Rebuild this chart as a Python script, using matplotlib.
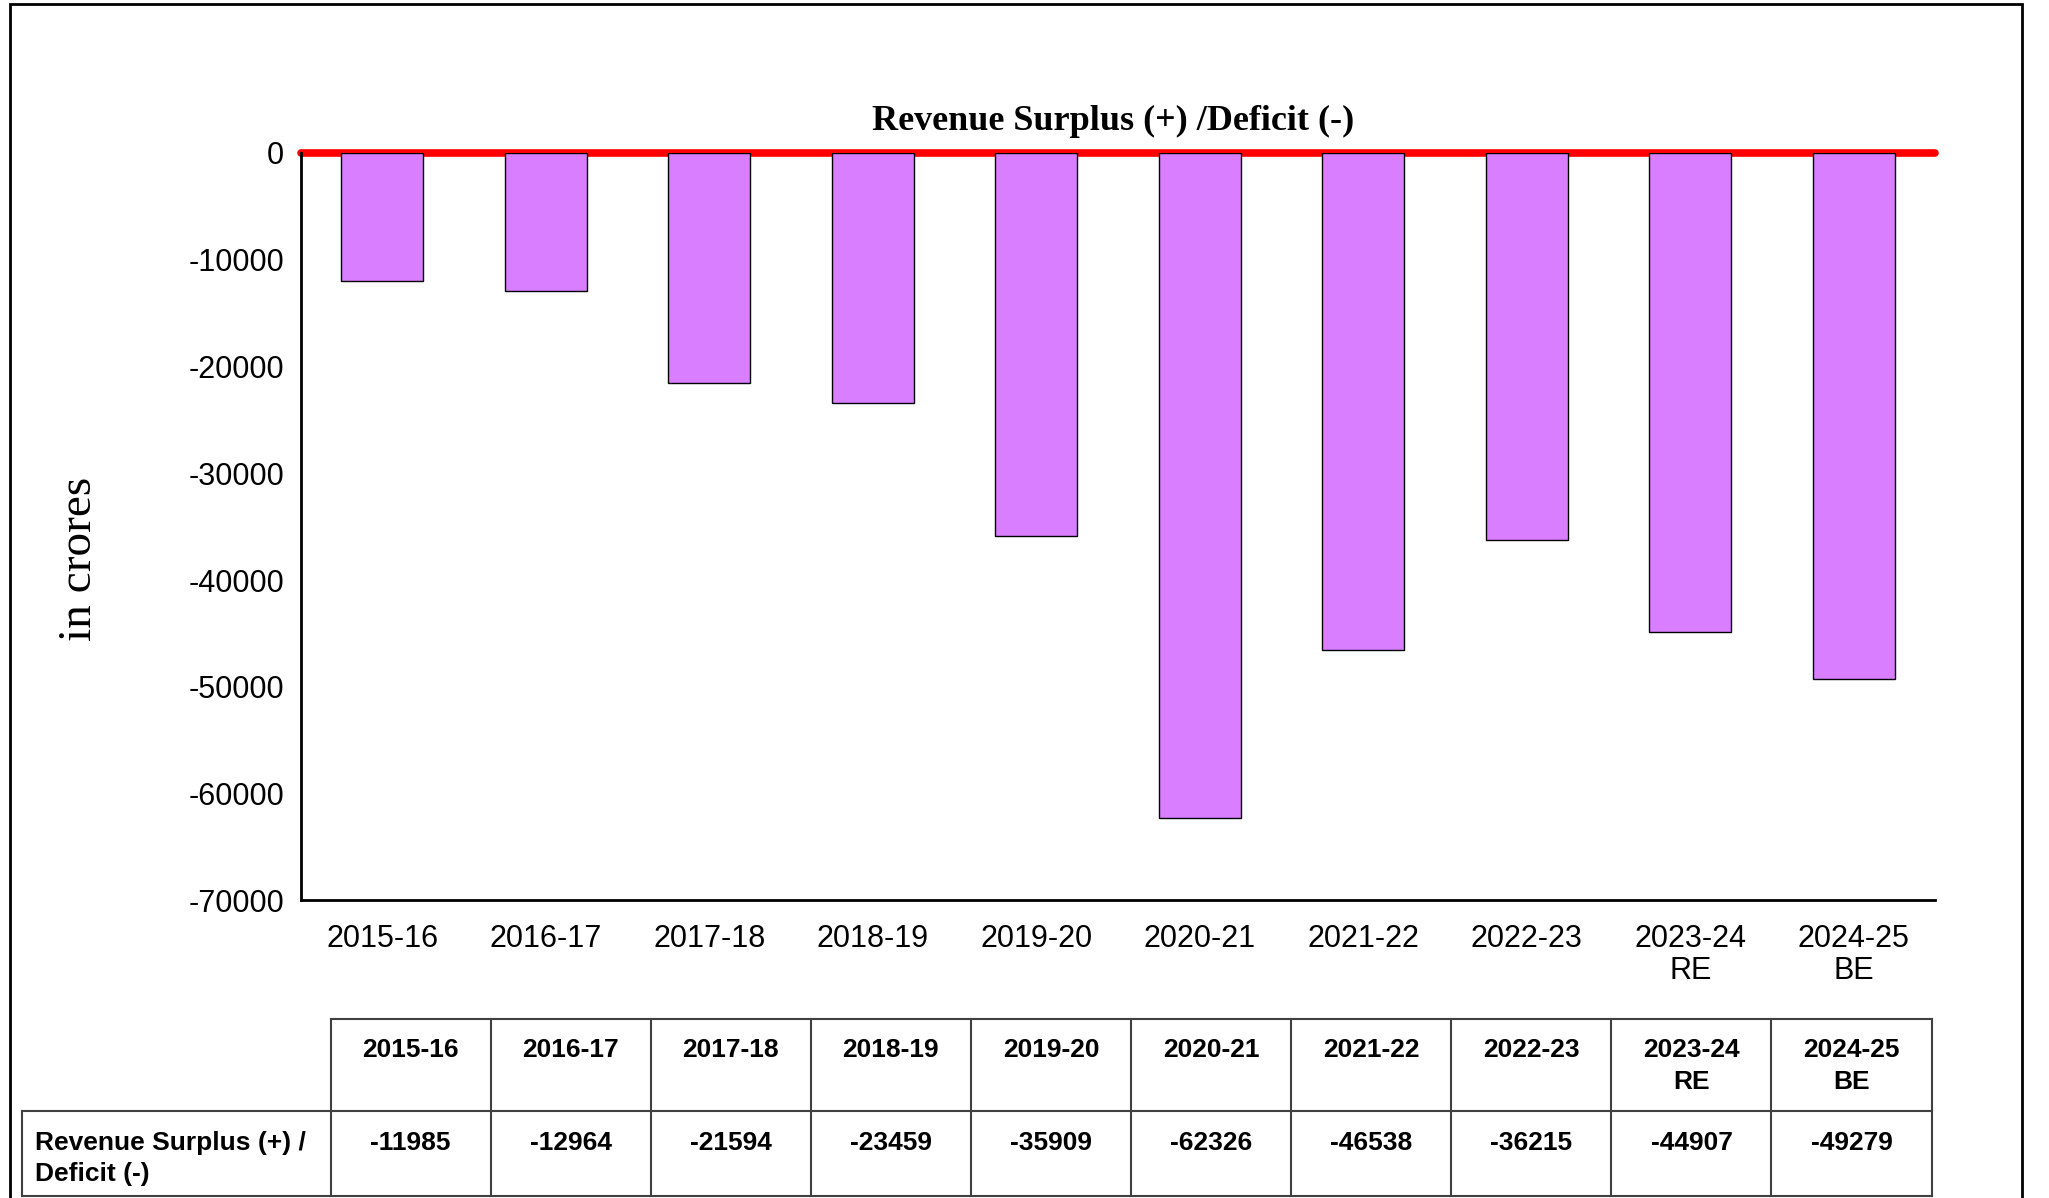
import matplotlib.pyplot as plt
from matplotlib.patches import Rectangle

plt.rcParams['font.family'] = ['Liberation Sans', 'DejaVu Sans']

years = ["2015-16", "2016-17", "2017-18", "2018-19", "2019-20", "2020-21",
         "2021-22", "2022-23", "2023-24\nRE", "2024-25\nBE"]
deficit = [-11985, -12964, -21594, -23459, -35909, -62326,
           -46538, -36215, -44907, -49279]
yticks = [0, -10000, -20000, -30000, -40000, -50000, -60000, -70000]
title = "Revenue Surplus (+) /Deficit (-)"
ylabel = "in crores"
row_label = "Revenue Surplus (+) /\nDeficit (-)"

fig = plt.figure(figsize=(20.49, 11.98), dpi=100)

# outer frame (bottom edge runs off the picture)
fig.patches.append(Rectangle((0.0051, -0.05), 0.9815, 1.0467, transform=fig.transFigure,
                             fill=False, edgecolor='black', linewidth=2))

ax = fig.add_axes([0.1467, 0.2484, 0.7979, 0.6240])
x = list(range(len(years)))
ax.bar(x, deficit, width=0.5, color='#d97eff', edgecolor='black', linewidth=1, zorder=3)
ax.axhline(0, color='#ff0000', linewidth=5.5, solid_capstyle='round', clip_on=False, zorder=2)

ax.set_xlim(-0.5, len(years) - 0.5)
ax.set_ylim(-70000, 0)
ax.set_xticks(x)
ax.set_xticklabels(years, fontsize=22, linespacing=1.1)
ax.set_yticks(yticks)
ax.set_yticklabels([str(v) for v in yticks], fontsize=22)
ax.tick_params(axis='x', length=0, pad=17)
ax.tick_params(axis='y', length=0, pad=12)
for s in ['top', 'right']:
    ax.spines[s].set_visible(False)
for s in ['left', 'bottom']:
    ax.spines[s].set_linewidth(2)
    ax.spines[s].set_color('black')

fig.text(0.5434, 0.899, title, ha='center', va='center', fontsize=26,
         fontweight='bold', family=['Liberation Serif', 'DejaVu Serif'])
fig.text(0.039, 0.5334, ylabel, ha='center', va='center', rotation=90, fontsize=34,
         family=['Liberation Serif', 'DejaVu Serif'])

# data table below the chart
tax = fig.add_axes([0.01084, 0.0019, 0.93186, 0.1473])
tax.set_xlim(-1.926, len(years))
tax.set_ylim(0, 1)
tax.axis('off')
mid = 0.481
lc = '#404040'
tax.plot([0, len(years)], [1, 1], color=lc, lw=1.5, clip_on=False)
tax.plot([-1.926, len(years)], [mid, mid], color=lc, lw=1.5, clip_on=False)
tax.plot([-1.926, len(years)], [0, 0], color=lc, lw=1.5, clip_on=False)
tax.plot([-1.926, -1.926], [0, mid], color=lc, lw=1.5, clip_on=False)
for i in range(len(years) + 1):
    tax.plot([i, i], [0, 1], color=lc, lw=1.5, clip_on=False)

for i, (yr, val) in enumerate(zip(years, deficit)):
    tax.text(i + 0.5, 0.893, yr, ha='center', va='top', fontsize=19,
             fontweight='bold', linespacing=1.4)
    tax.text(i + 0.5, 0.369, str(val), ha='center', va='top', fontsize=19, fontweight='bold')
tax.text(-1.844, 0.369, row_label, ha='left', va='top', fontsize=19,
         fontweight='bold', linespacing=1.4)

fig.savefig('out.png', dpi=100)
